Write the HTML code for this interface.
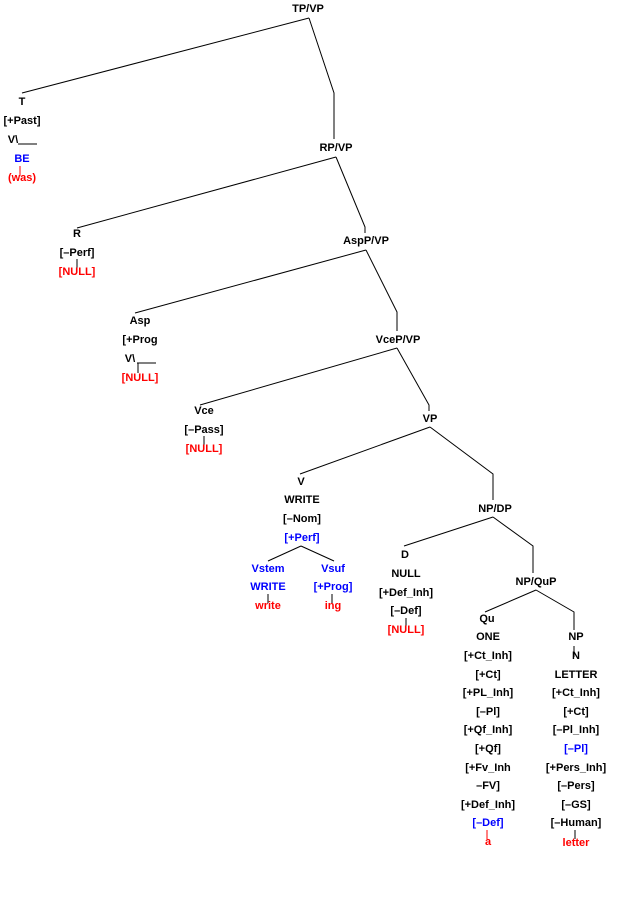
<!DOCTYPE html>
<html><head><meta charset="utf-8"><style>
html,body{margin:0;padding:0;background:#fff;}
svg{display:block;}
text{font-family:"Liberation Sans",sans-serif;font-size:11px;font-weight:bold;text-anchor:middle;dominant-baseline:central;fill:#000;}
.b{fill:#00f;} .r{fill:#f00;}
line,polyline{stroke:#000;stroke-width:1;fill:none;}
.rl{stroke:#f00;}
</style></head><body>
<svg width="631" height="916" viewBox="0 0 631 916">
<!-- connectors -->
<polyline points="22,93 309,18"/><polyline points="309,18 334,93 334,139"/>
<polyline points="77,228 336,157"/><polyline points="336,157 365,227 365,233"/>
<polyline points="135,313 366,250"/><polyline points="366,250 397,312 397,331"/>
<polyline points="200,405 397,348"/><polyline points="397,348 429,405 429,411"/>
<polyline points="300,474 430,427"/><polyline points="430,427 493,474 493,500"/>
<polyline points="404,546 493,517"/><polyline points="493,517 533,546 533,573"/>
<polyline points="485,612 536,590"/><polyline points="536,590 574,612 574,630"/>
<polyline points="268,561 301,546"/><polyline points="301,546 334,561"/>
<line x1="574" y1="646" x2="574" y2="657"/>
<!-- phrase labels -->
<text x="308" y="9">TP/VP</text>
<text x="336" y="148">RP/VP</text>
<text x="366" y="241">AspP/VP</text>
<text x="398" y="340">VceP/VP</text>
<text x="430" y="419">VP</text>
<text x="495" y="509">NP/DP</text>
<text x="536" y="582">NP/QuP</text>
<!-- T -->
<text x="22" y="102">T</text>
<text x="22" y="121">[+Past]</text>
<text x="13" y="140">V\</text>
<line x1="18" y1="144" x2="37" y2="144"/>
<text x="22" y="159" class="b">BE</text>
<line class="rl" x1="20" y1="166" x2="20" y2="176"/>
<text x="22" y="178" class="r">(was)</text>
<!-- R -->
<text x="77" y="234">R</text>
<text x="77" y="253">[–Perf]</text>
<line x1="77" y1="259" x2="77" y2="268"/>
<text x="77" y="272" class="r">[NULL]</text>
<!-- Asp -->
<text x="140" y="321">Asp</text>
<text x="140" y="340">[+Prog</text>
<text x="130" y="359">V\</text>
<line x1="137" y1="363" x2="156" y2="363"/>
<line x1="138" y1="363" x2="138" y2="373"/>
<text x="140" y="378" class="r">[NULL]</text>
<!-- Vce -->
<text x="204" y="411">Vce</text>
<text x="204" y="430">[–Pass]</text>
<line x1="204" y1="436" x2="204" y2="445"/>
<text x="204" y="449" class="r">[NULL]</text>
<!-- V -->
<text x="301" y="482">V</text>
<text x="302" y="500">WRITE</text>
<text x="302" y="519">[–Nom]</text>
<text x="302" y="538" class="b">[+Perf]</text>
<text x="268" y="569" class="b">Vstem</text>
<text x="268" y="587" class="b">WRITE</text>
<line x1="268" y1="594" x2="268" y2="603"/>
<text x="268" y="606" class="r">write</text>
<text x="333" y="569" class="b">Vsuf</text>
<text x="333" y="587" class="b">[+Prog]</text>
<line x1="332" y1="594" x2="332" y2="603"/>
<text x="333" y="606" class="r">ing</text>
<!-- D -->
<text x="405" y="555">D</text>
<text x="406" y="574">NULL</text>
<text x="406" y="593">[+Def_Inh]</text>
<text x="406" y="611">[–Def]</text>
<line x1="406" y1="618" x2="406" y2="627"/>
<text x="406" y="630" class="r">[NULL]</text>
<!-- Qu -->
<text x="487" y="619">Qu</text>
<text x="488" y="637">ONE</text>
<text x="488" y="656">[+Ct_Inh]</text>
<text x="488" y="675">[+Ct]</text>
<text x="488" y="693">[+PL_Inh]</text>
<text x="488" y="712">[–Pl]</text>
<text x="488" y="730">[+Qf_Inh]</text>
<text x="488" y="749">[+Qf]</text>
<text x="488" y="768">[+Fv_Inh</text>
<text x="488" y="786">–FV]</text>
<text x="488" y="805">[+Def_Inh]</text>
<text x="488" y="823" class="b">[–Def]</text>
<line class="rl" x1="487" y1="830" x2="487" y2="839"/>
<text x="488" y="842" class="r">a</text>
<!-- NP -->
<text x="576" y="637">NP</text>
<text x="576" y="656">N</text>
<text x="576" y="675">LETTER</text>
<text x="576" y="693">[+Ct_Inh]</text>
<text x="576" y="712">[+Ct]</text>
<text x="576" y="730">[–Pl_Inh]</text>
<text x="576" y="749" class="b">[–Pl]</text>
<text x="576" y="768">[+Pers_Inh]</text>
<text x="576" y="786">[–Pers]</text>
<text x="576" y="805">[–GS]</text>
<text x="576" y="823">[–Human]</text>
<line x1="575" y1="830" x2="575" y2="839"/>
<text x="576" y="843" class="r">letter</text>
</svg>
</body></html>
